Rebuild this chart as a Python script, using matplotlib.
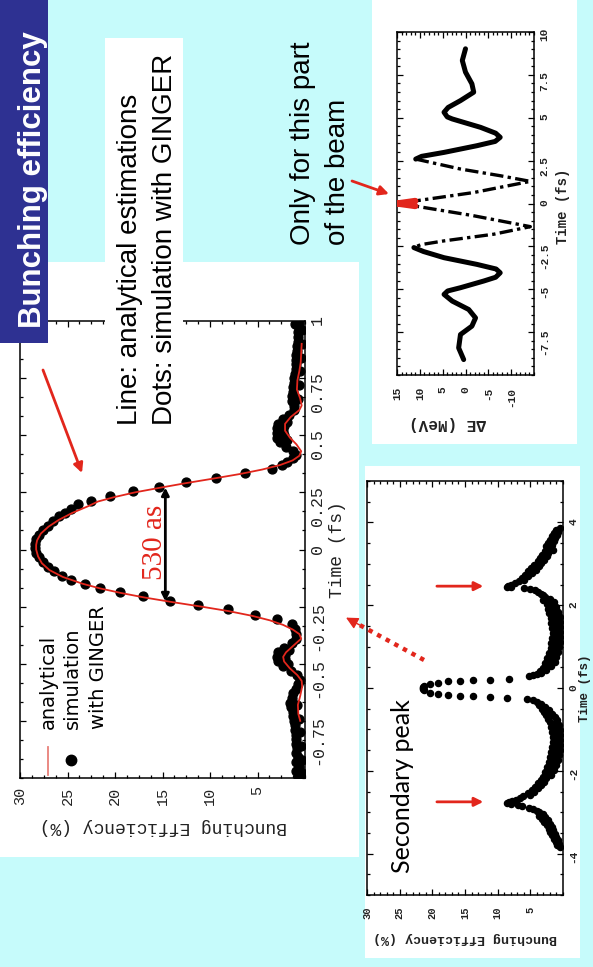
import matplotlib
matplotlib.use("Agg")
import numpy as np
import matplotlib.pyplot as plt
from matplotlib.patches import Rectangle, FancyArrowPatch
from matplotlib.lines import Line2D
from matplotlib.ticker import MultipleLocator

# ---------------------------------------------------------------- data
# analytical bunching efficiency (red line): time (fs), efficiency (%)
ana_time = [-0.75, -0.72, -0.68, -0.64, -0.60, -0.575, -0.55, -0.52, -0.49, -0.47,
            -0.45, -0.42, -0.39, -0.37, -0.35, -0.33, -0.31, -0.29, -0.27, -0.25,
            -0.23, -0.21, -0.19, -0.17, -0.15, -0.12, -0.09, -0.06, -0.03, 0.0,
            0.02, 0.04, 0.07, 0.10, 0.13, 0.16, 0.19, 0.21, 0.23, 0.25,
            0.27, 0.29, 0.31, 0.33, 0.35, 0.37, 0.39, 0.41, 0.43, 0.46,
            0.49, 0.52, 0.55, 0.58, 0.61, 0.63, 0.66, 0.70, 0.74, 0.78,
            0.82, 0.86, 0.90]
ana_eff = [0.5, 0.7, 0.75, 0.5, 0.3, 0.35, 0.8, 1.6, 2.2, 2.3,
           2.0, 1.2, 0.4, 0.6, 1.3, 2.3, 3.7, 5.6, 8.0, 10.9,
           14.0, 16.9, 19.4, 21.6, 23.4, 25.5, 26.9, 27.7, 28.1, 28.3,
           28.3, 28.2, 27.8, 27.0, 25.9, 24.5, 22.8, 21.8, 20.0, 17.9,
           15.3, 12.6, 9.7, 6.9, 4.5, 2.6, 1.3, 0.6, 0.4, 0.9,
           1.6, 2.1, 2.1, 1.5, 0.6, 0.35, 0.5, 0.85, 0.8, 0.6,
           0.45, 0.4, 0.35]

# GINGER simulation (black dots)
sim_time = [-0.99, -0.97, -0.95, -0.93, -0.91, -0.89, -0.87, -0.85, -0.83, -0.81,
            -0.79, -0.77, -0.75, -0.73, -0.71, -0.69, -0.67, -0.65, -0.63, -0.61,
            -0.59, -0.57, -0.55, -0.53, -0.51, -0.49, -0.47, -0.45, -0.43, -0.41,
            -0.39, -0.37, -0.348, -0.328, -0.306, -0.287, -0.262, -0.243, -0.226, -0.204,
            -0.186, -0.168, -0.153, -0.135, -0.115, -0.095, -0.075, -0.055, -0.035, -0.015,
            0.005, 0.025, 0.045, 0.065, 0.085, 0.105, 0.125, 0.145, 0.16, 0.178,
            0.197, 0.214, 0.233, 0.255, 0.272, 0.294, 0.313, 0.335, 0.353, 0.37,
            0.385, 0.40, 0.415, 0.43, 0.45, 0.47, 0.49, 0.51, 0.53, 0.55,
            0.57, 0.59, 0.61, 0.63, 0.65, 0.67, 0.69, 0.71, 0.73, 0.75,
            0.77, 0.79, 0.81, 0.83, 0.85, 0.87, 0.89, 0.91, 0.93, 0.95,
            0.97, 0.99,
            -0.98, -0.92, -0.86, -0.80, -0.74, -0.68, -0.50, -0.48, -0.46, -0.44,
            0.48, 0.50, 0.52, 0.54, 0.56, 0.66, 0.72, 0.78, 0.84, 0.90,
            0.96, 0.985]
sim_eff = [0.7, 0.9, 0.6, 0.9, 0.7, 0.9, 0.8, 1.0, 0.9, 1.0,
           1.1, 1.1, 1.2, 1.3, 1.3, 1.5, 1.6, 1.4, 1.3, 1.0,
           0.7, 0.5, 0.8, 1.5, 2.3, 2.8, 3.0, 2.8, 2.2, 1.4,
           0.9, 1.0, 1.1, 1.4, 3.0, 5.3, 8.1, 11.3, 14.2, 17.1,
           19.5, 21.6, 23.2, 24.6, 25.6, 26.4, 27.1, 27.6, 28.0, 28.3,
           28.4, 28.4, 28.3, 28.0, 27.6, 27.1, 26.5, 25.9, 25.3, 24.6,
           23.9, 22.5, 20.5, 18.1, 15.4, 12.5, 9.4, 6.3, 3.5, 2.4,
           1.9, 1.3, 1.0, 1.3, 2.0, 2.6, 2.9, 3.0, 3.0, 2.8,
           2.3, 1.7, 1.2, 1.2, 1.4, 1.4, 1.3, 1.3, 1.2, 1.2,
           1.1, 1.0, 1.0, 0.9, 0.9, 0.8, 0.8, 0.7, 0.7, 0.7,
           0.6, 0.6,
           0.3, 0.3, 0.4, 0.5, 0.6, 0.8, 1.8, 2.1, 2.1, 1.7,
           1.9, 2.2, 2.3, 2.2, 1.9, 0.7, 0.6, 0.5, 0.4, 0.35,
           0.3, 1.1]

# energy modulation along the beam: time (fs), delta E (MeV)
mod_time = [9.02, 8.34, 7.66, 6.98, 6.49, 6.00, 5.60, 5.32, 5.05, 4.93,
            4.44, 4.10, 3.86, 3.62, 3.37, 2.98, 2.75, 2.59, 2.01, 1.62,
            1.29, 0.64, 0.15, 0.0, -0.15, -0.70, -1.35, -1.79, -2.18, -2.40,
            -2.57, -2.80, -3.16, -3.55, -3.82, -4.04, -4.30, -4.52, -4.91, -5.10,
            -5.30, -5.69, -6.18, -6.67, -7.15, -7.64, -8.42, -9.10]
mod_energy = [0.0, 0.7, 0.0, -1.4, -1.8, 1.1, 3.8, 4.7, 4.0, 2.9,
              -3.3, -6.6, -7.6, -6.5, -2.5, 4.7, 9.6, 10.9, 1.1, -7.6,
              -14.2, -1.8, 11.0, 15.0, 11.0, -1.5, -14.2, -6.2, 4.7, 9.8,
              11.3, 9.2, 4.7, -2.5, -6.7, -7.6, -6.6, -4.0, 1.1, 3.9,
              4.7, 2.9, -0.7, -2.2, -1.4, 1.1, 1.5, 0.4]

# bunching efficiency over a wider time window: time (fs), efficiency (%)
# outer flank and secondary peak at positive time
wide_a_time = [3.86, 3.82, 3.78, 3.74, 3.70, 3.66, 3.62, 3.58, 3.54, 3.50,
               3.46, 3.42, 3.38, 3.34, 3.30, 3.26, 3.22, 3.18, 3.14, 3.10,
               3.06, 3.02, 2.98, 2.94, 2.90, 2.86, 2.82, 2.78, 2.74, 2.70,
               2.66, 2.62, 2.58, 2.54, 2.50, 2.47, 2.45, 2.43, 2.41, 2.39,
               2.36, 2.32, 2.28, 2.24]
wide_a_eff = [0.5, 1.0, 0.7, 1.4, 0.9, 1.7, 1.2, 2.0, 1.4, 2.3,
              1.7, 2.6, 2.0, 1.6, 2.8, 2.3, 3.2, 2.5, 3.5, 2.9,
              3.9, 3.3, 4.4, 3.7, 4.9, 4.2, 5.4, 4.8, 5.8, 5.4,
              6.3, 6.0, 6.8, 7.3, 7.9, 8.4, 8.6, 8.0, 6.0, 5.0,
              4.3, 3.8, 3.3, 3.0]
# valley between the secondary peak and the main spike
wide_b_time = [2.20, 2.16, 2.12, 2.08, 2.04, 2.00, 1.96, 1.92, 1.88, 1.84,
               1.80, 1.76, 1.72, 1.68, 1.64, 1.60, 1.56, 1.52, 1.48, 1.44,
               1.40, 1.36, 1.32, 1.28, 1.24, 1.20, 1.16, 1.12, 1.08, 1.04,
               1.00, 0.96, 0.92, 0.88, 0.84, 0.80, 0.76, 0.72, 0.68, 0.64,
               0.60, 0.56, 0.52, 0.48, 0.44, 0.40, 0.36, 0.33, 0.31, 0.29]
wide_b_eff = [2.8, 2.0, 3.0, 1.4, 2.4, 1.9, 1.0, 2.3, 1.5, 0.7,
              2.1, 1.2, 0.5, 1.9, 1.1, 0.4, 1.8, 1.0, 0.4, 1.7,
              0.9, 0.4, 1.6, 1.0, 0.4, 1.7, 1.0, 0.5, 1.8, 1.1,
              0.6, 1.9, 1.3, 0.8, 2.2, 1.5, 1.0, 2.5, 1.8, 1.3,
              2.8, 2.1, 1.8, 3.1, 2.6, 3.5, 3.3, 4.0, 4.6, 5.2]
# main spike around t = 0
wide_c_time = [0.21, 0.20, 0.19, 0.18, 0.16, 0.13, 0.10, 0.05, 0.03, 0.0,
               -0.02, -0.05, -0.11, -0.15, -0.18, -0.19, -0.20, -0.21, -0.23, -0.26]
wide_c_eff = [8.3, 11.2, 13.7, 15.8, 17.6, 19.1, 20.4, 21.2, 21.4, 21.5,
              21.4, 21.2, 20.4, 19.1, 17.6, 15.8, 13.7, 11.2, 8.6, 5.5]
# valley at negative time
wide_d_time = [-0.30, -0.34, -0.38, -0.42, -0.46, -0.50, -0.54, -0.58, -0.62, -0.66,
               -0.70, -0.74, -0.78, -0.82, -0.86, -0.90, -0.94, -0.98, -1.02, -1.06,
               -1.10, -1.14, -1.18, -1.22, -1.26, -1.30, -1.34, -1.38, -1.42, -1.46,
               -1.50, -1.54, -1.58, -1.62, -1.66, -1.70, -1.74, -1.78, -1.82, -1.86,
               -1.90, -1.94, -1.98, -2.02, -2.06, -2.10, -2.14, -2.18]
wide_d_eff = [4.6, 4.0, 3.3, 3.7, 2.8, 3.2, 2.2, 2.9, 1.7, 2.6,
              1.3, 2.3, 0.9, 2.0, 1.4, 0.6, 1.9, 1.1, 0.5, 1.7,
              1.0, 0.4, 1.6, 0.9, 0.4, 1.6, 1.0, 0.4, 1.7, 1.0,
              0.5, 1.8, 1.2, 0.6, 2.0, 1.4, 0.8, 2.2, 1.6, 1.1,
              2.5, 1.9, 1.4, 2.8, 2.2, 1.8, 3.1, 2.6]
# secondary peak and outer flank at negative time
wide_e_time = [-2.22, -2.26, -2.30, -2.34, -2.38, -2.42, -2.46, -2.50, -2.54, -2.58,
               -2.62, -2.66, -2.70, -2.73, -2.76, -2.78, -2.80, -2.83, -2.86, -2.89,
               -2.92, -2.96, -3.00, -3.04, -3.08, -3.12, -3.16, -3.20, -3.24, -3.28,
               -3.32, -3.36, -3.40, -3.44, -3.48, -3.52, -3.56, -3.60, -3.64, -3.68,
               -3.72, -3.76, -3.80, -3.84]
wide_e_eff = [3.4, 2.9, 3.9, 3.3, 4.3, 3.8, 4.8, 4.4, 5.4, 5.0,
              6.1, 6.6, 7.2, 7.8, 8.3, 8.6, 7.9, 6.9, 6.2, 5.2,
              4.6, 4.0, 3.6, 3.1, 3.6, 2.7, 3.2, 2.3, 2.9, 2.0,
              2.5, 1.7, 2.2, 1.5, 2.0, 1.2, 1.7, 1.0, 1.4, 0.8,
              1.1, 0.6, 0.9, 0.5]

# tick values / labels
main_eff_ticks = [30, 25, 20, 15, 10, 5]
main_time_ticks = [-0.75, -0.5, -0.25, 0, 0.25, 0.5, 0.75, 1]
main_time_labels = ["-0.75", "-0.5", "-0.25", "0", "0.25", "0.5", "0.75", "1"]
mod_energy_ticks = [15, 10, 5, 0, -5, -10]
mod_time_ticks = [-7.5, -5, -2.5, 0, 2.5, 5, 7.5, 10]
mod_time_labels = ["-7.5", "-5", "-2.5", "0", "2.5", "5", "7.5", "10"]
wide_eff_ticks = [30, 25, 20, 15, 10, 5]
wide_time_ticks = [-4, -2, 0, 2, 4]

# full width at half maximum marker (530 as)
fwhm_eff = 14.7
fwhm_start, fwhm_end = -0.227, 0.271
# secondary peaks pointed out in the wide window
secondary_times = [2.46, -2.75]

# ---------------------------------------------------------------- style
W, H = 593, 967
BG = "#c6fbfb"
NAVY = "#2e3192"
RED = "#e2261c"
MONO = "Liberation Mono"
SANS = "Liberation Sans"

fig = plt.figure(figsize=(W / 100, H / 100), dpi=100)
fig.patch.set_facecolor(BG)


def fx(x):
    return x / W


def fy(y):
    return 1 - y / H


def panel(x0, y0, x1, y1, color, z):
    fig.add_artist(Rectangle((fx(x0), fy(y1)), (x1 - x0) / W, (y1 - y0) / H,
                             transform=fig.transFigure, facecolor=color,
                             edgecolor="none", zorder=z))


def axes_px(x0, y0, x1, y1):
    ax = fig.add_axes([fx(x0), fy(y1), (x1 - x0) / W, (y1 - y0) / H])
    ax.set_zorder(1)
    ax.set_facecolor("white")
    return ax


def frame_ticks(ax, xminor, yminor, xsize, ysize, xpad, ypad, bold=False):
    ax.xaxis.set_minor_locator(MultipleLocator(xminor))
    ax.yaxis.set_minor_locator(MultipleLocator(yminor))
    ax.tick_params(which="both", direction="in", top=True, bottom=True,
                   left=True, right=True, labelleft=False, labelright=True,
                   labelbottom=True, labeltop=False, width=0.9, color="black",
                   labelcolor="#222222")
    ax.tick_params(which="major", length=4.5)
    ax.tick_params(which="minor", length=2.2)
    ax.tick_params(axis="x", labelrotation=90, labelsize=xsize, pad=xpad,
                   labelfontfamily=MONO)
    ax.tick_params(axis="y", labelrotation=90, labelsize=ysize, pad=ypad,
                   labelfontfamily=MONO)
    if bold:
        for lab in ax.get_xticklabels() + ax.get_yticklabels():
            lab.set_fontweight("bold")
    for sp in ax.spines.values():
        sp.set_linewidth(1.1)
    ax.yaxis.set_label_position("right")


def axis_labels(ax, xlabel, xpos, ylabel, ypos, xsize, ysize, bold=False):
    w = "bold" if bold else "normal"
    ax.set_xlabel(xlabel, rotation=180, fontfamily=MONO, fontsize=xsize,
                  fontweight=w, color="#222222")
    ax.set_ylabel(ylabel, rotation=90, fontfamily=MONO, fontsize=ysize,
                  fontweight=w, color="#222222")
    inv = ax.transAxes.inverted()
    disp = fig.transFigure.transform
    ax.xaxis.label.set_verticalalignment("center")
    ax.xaxis.label.set_horizontalalignment("center")
    ax.yaxis.label.set_verticalalignment("center")
    ax.yaxis.label.set_horizontalalignment("center")
    ax.yaxis.label.set_rotation_mode("anchor")
    ax.xaxis.set_label_coords(*inv.transform(disp((fx(xpos[0]), fy(xpos[1])))))
    ax.yaxis.set_label_coords(*inv.transform(disp((fx(ypos[0]), fy(ypos[1])))))


# ---------------------------------------------------------------- panels
panel(0, 262, 359, 857, "white", -2)          # main chart card
panel(372, -5, 577, 444, "white", -2)         # energy modulation card
panel(365, 466, 580, 958, "white", -2)        # wide window card

# ---------------------------------------------------------------- main chart
ax1 = axes_px(20, 321, 305, 778)
ax1.set_xlim(30, 0)
ax1.set_ylim(-1, 1)
ax1.plot(sim_eff, sim_time, "o", color="black", ms=6.4, mec="black", zorder=2)
ax1.plot(ana_eff, ana_time, color=RED, lw=1.3, zorder=3)
ax1.set_xticks(main_eff_ticks, labels=[str(v) for v in main_eff_ticks])
ax1.set_yticks(main_time_ticks, labels=main_time_labels)
frame_ticks(ax1, 1.25, 0.25 / 3, 11, 12, 6, 3.5)
axis_labels(ax1, "Bunching Efficiency (%)", (163, 826), "Time (fs)", (338, 550), 13, 13)

ax1.annotate("", xy=(fwhm_eff, fwhm_end), xytext=(fwhm_eff, fwhm_start),
             arrowprops=dict(arrowstyle="<|-|>", color="black", lw=2.0,
                             mutation_scale=11, shrinkA=0, shrinkB=0), zorder=4)
ax1.text(15.8, (fwhm_start + fwhm_end) / 2 + 0.01, "530 as", rotation=90,
         ha="center", va="center", color=RED, fontsize=21,
         fontfamily="Liberation Serif", zorder=4)

# legend of the main chart
fig.add_artist(Line2D([fx(47.5), fx(47.5)], [fy(747), fy(775)], color="#e8807a",
                      lw=1.3, transform=fig.transFigure, zorder=5))
fig.add_artist(Line2D([fx(71)], [fy(760)], marker="o", ms=7.5, color="black",
                      linestyle="none", transform=fig.transFigure, zorder=5))
for text, xb in (("analytical", 53.5), ("simulation", 78), ("with GINGER", 104)):
    fig.text(fx(xb), fy(729), text, rotation=90, rotation_mode="anchor",
             ha="left", va="baseline", fontsize=14, family="DejaVu Sans", zorder=5)

# ---------------------------------------------------------------- energy modulation
ax2 = axes_px(397, 32, 534, 375)
ax2.set_xlim(15, -15)
ax2.set_ylim(-10, 10)
mt = np.array(mod_time)
me = np.array(mod_energy)
outer_hi = mt >= 2.59
outer_lo = mt <= -2.57
inner = (mt <= 2.59) & (mt >= -2.57)
for m in (outer_hi, outer_lo):
    ax2.plot(me[m], mt[m], color="black", lw=3.6, solid_capstyle="round",
             solid_joinstyle="round", zorder=2)
ax2.plot(me[inner], mt[inner], color="black", lw=2.4,
         linestyle=(0, (4, 1.3, 1, 1.3)), zorder=2)
tip = np.abs(mt) <= 0.15
ax2.plot(me[tip], mt[tip], color=RED, lw=4.5, solid_capstyle="round",
         solid_joinstyle="round", zorder=3)
ax2.set_xticks(mod_energy_ticks, labels=[str(v) for v in mod_energy_ticks])
ax2.set_yticks(mod_time_ticks, labels=mod_time_labels)
frame_ticks(ax2, 1.0, 0.5, 8, 8, 8.5, 4, bold=True)
axis_labels(ax2, "\u0394E (MeV)", (447, 424), "Time (fs)", (563, 206), 11.5, 10, bold=True)

# ---------------------------------------------------------------- wide window
ax3 = axes_px(367, 481, 563, 895)
ax3.set_xlim(30, 0)
ax3.set_ylim(-5, 5)
for tt, ee in ((wide_a_time, wide_a_eff), (wide_b_time, wide_b_eff),
               (wide_c_time, wide_c_eff), (wide_d_time, wide_d_eff),
               (wide_e_time, wide_e_eff)):
    ax3.plot(ee, tt, "o", color="black", ms=4.4, zorder=2)
ax3.set_xticks(wide_eff_ticks, labels=[str(v) for v in wide_eff_ticks])
ax3.set_yticks(wide_time_ticks, labels=[str(v) for v in wide_time_ticks])
frame_ticks(ax3, 1.0, 0.5, 7.5, 8, 8.5, 4, bold=True)
axis_labels(ax3, "Bunching Efficiency (%)", (465, 938), "Time (fs)", (585, 688), 9.5, 9, bold=True)
for ts in secondary_times:
    ax3.annotate("", xy=(12.2, ts), xytext=(19.3, ts),
                 arrowprops=dict(arrowstyle="-|>", color=RED, lw=2.0,
                                 mutation_scale=13, shrinkA=0, shrinkB=0))

# ---------------------------------------------------------------- slide overlays
panel(0, -5, 47.5, 343, NAVY, 6)
fig.text(fx(41), fy(328), "Bunching efficiency", rotation=90, rotation_mode="anchor",
         ha="left", va="baseline", fontsize=22.5, fontweight="bold",
         family=SANS, color="white", zorder=7)

panel(105, 38, 183, 440, "white", 6)
fig.text(fx(137), fy(425), "Line: analytical estimations", rotation=90,
         rotation_mode="anchor", ha="left", va="baseline", fontsize=20,
         family=SANS, color="black", zorder=7)
fig.text(fx(172), fy(425), "Dots: simulation with GINGER", rotation=90,
         rotation_mode="anchor", ha="left", va="baseline", fontsize=20,
         family=SANS, color="black", zorder=7)

fig.text(fx(310), fy(245), "Only for this part", rotation=90,
         rotation_mode="anchor", ha="left", va="baseline", fontsize=20,
         family=SANS, color="black", zorder=7)
fig.text(fx(345), fy(245), "of the beam", rotation=90,
         rotation_mode="anchor", ha="left", va="baseline", fontsize=20,
         family=SANS, color="black", zorder=7)

fig.text(fx(410), fy(873), "Secondary peak", rotation=90,
         rotation_mode="anchor", ha="left", va="baseline", fontsize=18,
         family="Lato", color="black", zorder=7)


def fig_arrow(p0, p1, lw=2.0, scale=14, z=8):
    fig.add_artist(FancyArrowPatch((fx(p0[0]), fy(p0[1])), (fx(p1[0]), fy(p1[1])),
                                   transform=fig.transFigure, arrowstyle="-|>",
                                   color=RED, lw=lw, mutation_scale=scale,
                                   shrinkA=0, shrinkB=0, zorder=z))


fig_arrow((43, 370), (82, 473))
fig_arrow((352, 181), (389, 194))
# dotted pointer from the wide window to the main chart
fig.add_artist(Line2D([fx(424), fx(356)], [fy(660), fy(623)], color=RED, lw=3.2,
                      linestyle=(0, (1, 1.2)), transform=fig.transFigure, zorder=8))
fig_arrow((360, 625.2), (346, 617.6), lw=1.0, scale=18)

fig.savefig("out.png", dpi=100, facecolor=BG)
